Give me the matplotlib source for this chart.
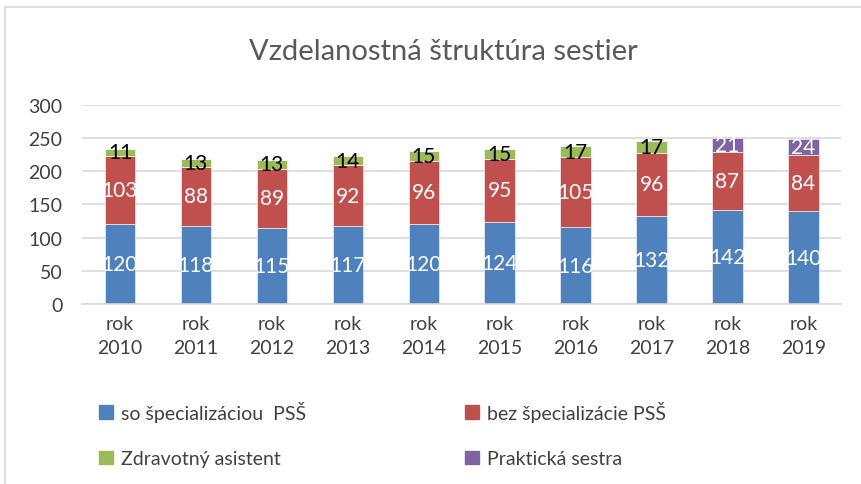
import matplotlib
matplotlib.use("Agg")
import matplotlib.pyplot as plt
from matplotlib.patches import Rectangle, Patch
import numpy as np

plt.rcParams['font.family'] = ['Lato', 'DejaVu Sans']

years = ["rok\n2010", "rok\n2011", "rok\n2012", "rok\n2013", "rok\n2014",
         "rok\n2015", "rok\n2016", "rok\n2017", "rok\n2018", "rok\n2019"]
so_spec = [120, 118, 115, 117, 120, 124, 116, 132, 142, 140]
bez_spec = [103, 88, 89, 92, 96, 95, 105, 96, 87, 84]
zdrav_asist = [11, 13, 13, 14, 15, 15, 17, 17, 0, 0]
prakt_sestra = [0, 0, 0, 0, 0, 0, 0, 0, 21, 24]

names = ["so špecializáciou  PSŠ", "bez špecializácie PSŠ",
         "Zdravotný asistent", "Praktická sestra"]
colors = ["#4F81BD", "#C0504D", "#9BBB59", "#8064A2"]
label_colors = ["white", "white", "black", "white"]

fig = plt.figure(figsize=(8.61, 4.85), dpi=100)
ax = fig.add_axes([0.0952, 0.371, 0.882, 0.411])

x = np.arange(len(years))
bottom = np.zeros(len(years))
for vals, name, col, lc in zip([so_spec, bez_spec, zdrav_asist, prakt_sestra],
                               names, colors, label_colors):
    vals = np.array(vals, dtype=float)
    ax.bar(x, vals, 0.4, bottom=bottom, color=col, label=name,
           edgecolor="white", linewidth=0.4, zorder=2)
    for xi, b, v in zip(x, bottom, vals):
        if v > 0:
            ax.text(xi, b + v / 2, f"{int(v)}", ha="center", va="center",
                    color=lc, fontsize=15, zorder=3)
    bottom += vals

ax.set_xlim(-0.5, len(years) - 0.5)
ax.set_ylim(0, 300)
ax.set_yticks(range(0, 301, 50))
ax.yaxis.grid(True, color="#D9D9D9", linewidth=1.2, zorder=0)
ax.set_axisbelow(True)
for s in ["top", "right", "left"]:
    ax.spines[s].set_visible(False)
ax.spines["bottom"].set_color("#D9D9D9")
ax.spines["bottom"].set_linewidth(1.2)
ax.set_xticks(x)
ax.set_xticklabels(years, linespacing=1.5)
ax.tick_params(axis="both", length=0, labelsize=14, colors="#404040", pad=8)
ax.tick_params(axis="y", pad=14)

fig.text(0.515, 0.893, "Vzdelanostná štruktúra sestier", ha="center",
         va="center", fontsize=21, color="#595959")

# legend is filled row by row in the reference
order = [0, 2, 1, 3]
handles = [Patch(color=colors[i]) for i in order]
labels = [names[i] for i in order]
fig.legend(handles, labels, loc="upper left", bbox_to_anchor=(0.095, 0.207),
           ncol=2, frameon=False, fontsize=14, labelcolor="#404040",
           handlelength=0.7, handleheight=0.7, handletextpad=0.4,
           columnspacing=8.2, labelspacing=1.45)

fig.patches.append(Rectangle((0.006, -0.01), 1.2, 0.993, transform=fig.transFigure,
                             fill=False, edgecolor="#D9D9D9", linewidth=1.2))

fig.savefig("out.png", dpi=100)
